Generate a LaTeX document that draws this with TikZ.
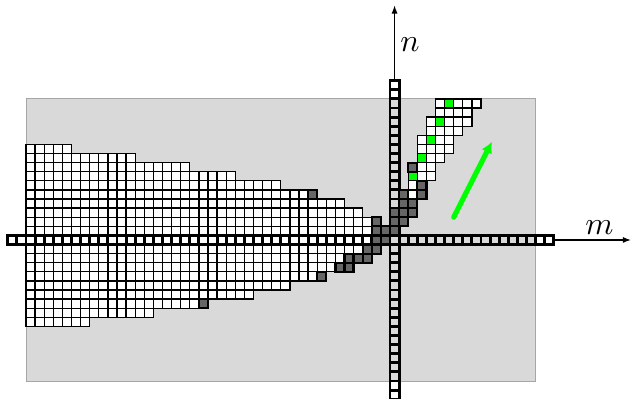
\documentclass[tikz,border=0pt]{standalone}
\usepackage{tikz}
\usetikzlibrary{arrows.meta}

\def\leftpart{(-40,-9) -- (-40,11) -- (-35,11) -- (-35,10) -- (-28,10) -- (-28,9) -- (-22,9)
  -- (-22,8) -- (-17,8) -- (-17,7) -- (-12,7) -- (-12,6) -- (-9,6) -- (-9,5) -- (-5,5) -- (-5,4)
  -- (-3,4) -- (-3,3) -- (-2,3) -- (-2,0) -- (-3,0) -- (-3,-1) -- (-5,-1) -- (-5,-2) -- (-6,-2)
  -- (-6,-3) -- (-8,-3) -- (-8,-4) -- (-11,-4) -- (-11,-5) -- (-15,-5) -- (-15,-6) -- (-21,-6)
  -- (-21,-7) -- (-26,-7) -- (-26,-8) -- (-33,-8) -- (-33,-9) -- cycle}
\def\rightpart{(2,5) -- (2,9) -- (3,9) -- (3,12) -- (4,12) -- (4,14) -- (5,14) -- (5,16)
  -- (10,16) -- (10,15) -- (9,15) -- (9,13) -- (8,13) -- (8,12) -- (7,12) -- (7,10) -- (6,10)
  -- (6,9) -- (5,9) -- (5,7) -- (3,7) -- (3,5) -- cycle}

\begin{document}
\begin{tikzpicture}[
  x=1mm, y=1mm,
  region/.style={fill=black!15, draw=black!35, line width=0.3pt},
  gridlines/.style={draw=black, line width=0.4pt, step=1},
  darkcell/.style={fill=black!60, draw=black, line width=0.7pt},
  greencell/.style={fill=green, draw=black, line width=0.4pt},
  axiscell/.style={draw=black, line width=0.9pt},
  axisarrow/.style={line width=0.45pt, -{Latex[length=2.6pt,width=1.9pt]}},
  dirarrow/.style={draw=green, line width=1.6pt, line cap=round, -{Latex[length=3.5pt,width=3.6pt]}},
]
\useasboundingbox (-42.86,-16.87) rectangle (26.59,26.87);
\draw[region] (-40,-15) rectangle (16,16);

\fill[white] \leftpart;
\fill[white] \rightpart;
\begin{scope}
  \clip \leftpart;
  \draw[gridlines] (-40,-9) grid (-2,11);
\end{scope}
\begin{scope}
  \clip \rightpart;
  \draw[gridlines] (2,5) grid (10,16);
\end{scope}
\draw[gridlines] \leftpart;
\draw[gridlines] \rightpart;

\foreach \c in {2,...,6}
  \draw[greencell] (\c,2*\c+3) rectangle ++(1,1);

\foreach \i in {-42,...,17}
  \draw[axiscell] (\i,0) rectangle ++(1,1);
\foreach \j in {-17,...,17}
  \draw[axiscell] (0,\j) rectangle ++(1,1);

\foreach \i/\j in {2/8, 3/6, 3/5, 1/5, 1/4, 1/3, 1/2, 2/4, 2/3, 0/3, 0/2, 0/1, -1/1, -1/0,
    -2/2, -2/1, -2/0, -2/-1, -3/-1, -3/-2, -4/-2, -5/-2, -5/-3, -6/-3, -8/-4, -21/-7, -9/5}
  \draw[darkcell] (\i,\j) rectangle ++(1,1);

\coordinate (mfrom) at (18,0.5);
\coordinate (mto) at (26.5,0.5);
\coordinate (nfrom) at (0.5,18);
\coordinate (nto) at (0.5,26.3);
\draw[axisarrow] (mfrom) -- (mto);
\draw[axisarrow] (nfrom) -- (nto);
\node (mlabel) at (23,1.85) {$m$};
\node (nlabel) at (2.2,22) {$n$};

\coordinate (gtail) at (7,3);
\coordinate (ghead) at (11.2,11.3);
\draw[dirarrow] (gtail) -- (ghead);
\end{tikzpicture}
\end{document}
